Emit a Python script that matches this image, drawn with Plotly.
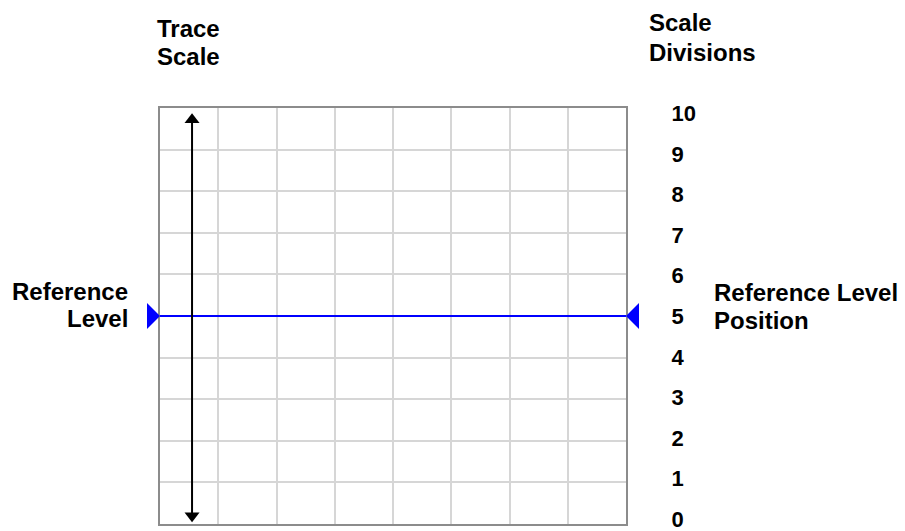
import plotly.graph_objects as go

# ---- data ----
scale_divisions = [0, 1, 2, 3, 4, 5, 6, 7, 8, 9, 10]
division_labels = [str(v) for v in scale_divisions]
n_x_divisions = 8
n_y_divisions = 10
reference_level = 5
arrow_x = 0.55
arrow_y_top = 9.72
arrow_y_bottom = 0.2

# ---- layout geometry (pixels) ----
W, H = 905, 531
L, R, T, B = 160, 626, 108, 524
FONT = "Arial, Liberation Sans, sans-serif"
FS_TEXT = 24
FS_DIGIT = 22
BLUE = "#0000ff"


def px(x):
    return (x - L) / (R - L)


def py(y):
    return (B - y) / (B - T)


fig = go.Figure()

# reference level line
fig.add_trace(go.Scatter(
    x=[0, n_x_divisions], y=[reference_level, reference_level],
    mode="lines", line=dict(color=BLUE, width=2),
    hoverinfo="skip", showlegend=False, cliponaxis=False))

# trace scale arrow
fig.add_trace(go.Scatter(
    x=[arrow_x, arrow_x], y=[arrow_y_top, arrow_y_bottom],
    mode="lines+markers", line=dict(color="black", width=2),
    marker=dict(symbol=["triangle-up", "triangle-down"], size=13,
                color="black", line=dict(width=0)),
    hoverinfo="skip", showlegend=False, cliponaxis=False))

# invisible trace on right axis for the scale division labels
fig.add_trace(go.Scatter(x=[0], y=[0], yaxis="y2", mode="markers",
                         marker=dict(opacity=0), hoverinfo="skip",
                         showlegend=False))

fig.update_layout(
    template="none",
    width=W, height=H,
    margin=dict(l=L, r=W - R, t=T, b=H - B, pad=0, autoexpand=False),
    paper_bgcolor="white", plot_bgcolor="white",
    xaxis=dict(range=[0, n_x_divisions], dtick=1, tick0=0,
               showgrid=True, gridcolor="#d6d6d6", gridwidth=2,
               zeroline=False, showticklabels=False, ticks="",
               showline=True, mirror=True, linecolor="#8c8c8c", linewidth=2,
               automargin=False, fixedrange=True),
    yaxis=dict(range=[0, n_y_divisions], dtick=1, tick0=0,
               showgrid=True, gridcolor="#d6d6d6", gridwidth=2,
               zeroline=False, showticklabels=False, ticks="",
               showline=True, mirror=True, linecolor="#8c8c8c", linewidth=2,
               automargin=False, fixedrange=True),
    yaxis2=dict(overlaying="y", side="right",
                range=[-0.1233, 10.136],
                tickvals=scale_divisions, ticktext=division_labels,
                showgrid=False, zeroline=False, showline=False,
                ticks="outside", ticklen=40, tickcolor="rgba(0,0,0,0)",
                ticklabeloverflow="allow", automargin=False,
                tickfont=dict(family=FONT, size=FS_DIGIT, color="black",
                              weight="bold"),
                fixedrange=True),
    showlegend=False,
)

# reference level position markers (triangular arrow heads)
for x_tip, ax in [(0, -12), (n_x_divisions, 12)]:
    fig.add_annotation(x=x_tip, y=reference_level, xref="x", yref="y",
                       ax=ax, ay=0, axref="pixel", ayref="pixel",
                       text="", showarrow=True, arrowhead=1,
                       arrowsize=2.17, arrowwidth=2, arrowcolor=BLUE,
                       standoff=0)

ann_font = dict(family=FONT, size=FS_TEXT, color="black", weight="bold")
text_lines = [
    ("Trace", 155, 28, "left"),
    ("Scale", 155, 56, "left"),
    ("Scale", 647, 23, "left"),
    ("Divisions", 647, 52, "left"),
    ("Reference", 130, 291, "right"),
    ("Level", 130, 318, "right"),
    ("Reference Level", 712, 292, "left"),
    ("Position", 712, 320, "left"),
]
for txt, xp, yp, anchor in text_lines:
    fig.add_annotation(text=txt, xref="paper", yref="paper",
                       x=px(xp), y=py(yp), xanchor=anchor, yanchor="middle",
                       align=anchor, showarrow=False, font=ann_font)

post = (
    "document.body.style.margin='0';"
    "document.body.style.overflow='hidden';"
)
fig.write_html("out.html", config={"displayModeBar": False},
               post_script=post)
